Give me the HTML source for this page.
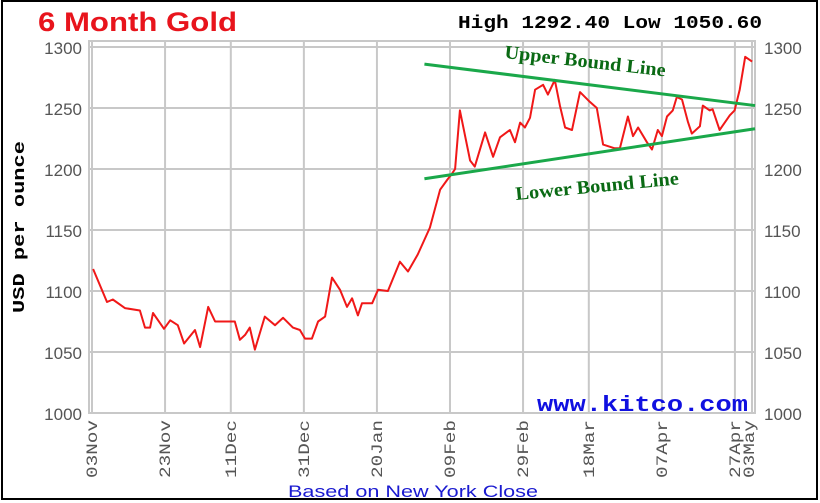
<!DOCTYPE html>
<html><head><meta charset="utf-8"><style>
html,body{margin:0;padding:0;background:#fff;width:820px;height:503px;overflow:hidden}
svg{display:block}
</style></head><body>
<svg id="chart" width="820" height="503" viewBox="0 0 820 503" xmlns="http://www.w3.org/2000/svg">
<rect x="2" y="1" width="815" height="498" fill="#fff" stroke="#000" stroke-width="2"/>
<text x="38" y="31" textLength="199" lengthAdjust="spacingAndGlyphs" font-family="Liberation Sans, sans-serif" font-weight="bold" font-size="27" fill="#e8141c">6 Month Gold</text>
<text x="458" y="28" textLength="304" lengthAdjust="spacingAndGlyphs" font-family="Liberation Mono, monospace" font-weight="bold" font-size="18" fill="#000">High 1292.40 Low 1050.60</text>
<text transform="translate(24,227) rotate(-90)" text-anchor="middle" textLength="172" lengthAdjust="spacingAndGlyphs" font-family="Liberation Mono, monospace" font-weight="bold" font-size="17" fill="#000">USD per ounce</text>
<rect x="89" y="41" width="666" height="372" fill="#fff" stroke="#c8c8c8" stroke-width="2"/>
<g id="grid"></g>
<g id="labels"></g>
<text x="537" y="411" textLength="211" lengthAdjust="spacingAndGlyphs" font-family="Liberation Mono, monospace" font-weight="bold" font-size="22" fill="#1010e0">www.kitco.com</text>
<g id="series"></g>
<text x="504" y="58" textLength="162" lengthAdjust="spacingAndGlyphs" transform="rotate(6.5 504 58)" font-family="Liberation Serif, serif" font-weight="bold" font-size="19" fill="#0a6a14">Upper Bound Line</text>
<text x="516" y="200" textLength="164" lengthAdjust="spacingAndGlyphs" transform="rotate(-5.5 516 200)" font-family="Liberation Serif, serif" font-weight="bold" font-size="19" fill="#0a6a14">Lower Bound Line</text>
<text x="288" y="497" textLength="250" lengthAdjust="spacingAndGlyphs" font-family="Liberation Sans, sans-serif" font-size="17" fill="#1a1ad0">Based on New York Close</text>
</svg>
<script>
const yTicks=[1000,1050,1100,1150,1200,1250,1300];
const xTickDays=[0,20,38,58,78,98,118,136,156,176,182];
const xTickLabels=["03Nov","23Nov","11Dec","31Dec","20Jan","09Feb","29Feb","18Mar","07Apr","27Apr","03May"];
const priceDays=[0.3,4.1,5.7,9.0,13.1,14.5,15.9,16.7,18.1,19.7,21.4,23.5,25.2,28.2,29.6,31.8,33.7,36.4,39.1,40.5,41.9,43.2,44.6,47.3,50.1,52.3,55.0,56.9,58.3,60.2,61.9,63.8,65.7,67.9,69.8,71.2,72.8,73.9,76.7,78.3,81.0,84.3,86.5,89.2,92.5,95.3,97.2,98.5,99.4,100.7,103.5,104.8,107.6,109.8,111.7,114.4,115.8,117.2,118.5,119.9,121.3,123.5,124.8,126.7,128.1,129.5,131.4,133.6,136.3,138.2,139.9,143.1,144.5,146.7,148.1,149.5,151.9,153.3,154.9,156.0,157.4,159.0,160.1,161.5,163.1,164.2,166.4,167.2,169.1,169.9,171.8,174.6,175.9,177.3,178.8,180.7];
const prices=[1118,1091,1093,1086,1084,1070,1070,1082,1076,1069,1076,1072,1057,1068,1054,1087,1075,1075,1075,1060,1064,1070,1052,1079,1072,1078,1070,1068,1061,1061,1075,1079,1111,1101,1087,1094,1080,1090,1090,1101,1100,1124,1116,1130,1152,1183,1191,1196,1200,1248,1207,1202,1230,1210,1226,1232,1222,1238,1234,1242,1265,1269,1261,1273,1252,1234,1232,1263,1255,1250,1220,1217,1217,1243,1227,1234,1222,1216,1232,1227,1243,1248,1259,1257,1239,1229,1235,1252,1248,1249,1232,1244,1248,1265,1292,1288];
const upperDays=[91,181.5], upperPrices=[1286,1252];
const lowerDays=[91,181.5], lowerPrices=[1192,1233];

const NS="http://www.w3.org/2000/svg";
const X=d=>92+d*3.653;
const Y=p=>413-(p-1000)*1.22;
const grid=document.getElementById('grid'),labels=document.getElementById('labels'),series=document.getElementById('series');
function mk(tag,attrs,parent){const e=document.createElementNS(NS,tag);for(const k in attrs)e.setAttribute(k,attrs[k]);parent.appendChild(e);return e;}
yTicks.forEach(v=>{
  const l=mk('line',{x1:89,x2:755,y1:Y(v),y2:Y(v),stroke:'#c8c8c8','stroke-width':2},grid);
  
  
  const t1=mk('text',{x:82,y:Y(v)+7,'text-anchor':'end','font-family':'Liberation Sans, sans-serif','font-size':17,fill:'#555'},labels);
  t1.textContent=v;
  
  
  const t2=mk('text',{x:764,y:Y(v)+7,'font-family':'Liberation Sans, sans-serif','font-size':17,fill:'#555'},labels);
  t2.textContent=v;
  
  
});
xTickDays.forEach((d,i)=>{
  const x=Math.min(X(d),752);
  const l=mk('line',{x1:x,x2:x,y1:41,y2:413,stroke:'#c8c8c8','stroke-width':2},grid);
  
  
  const lx=i===xTickLabels.length-1?x+2:x+5;
  const t=mk('text',{x:0,y:0,transform:`translate(${lx},420) rotate(-90)`,'text-anchor':'end',textLength:58,lengthAdjust:'spacingAndGlyphs','font-family':'Liberation Mono, monospace','font-size':16,fill:'#555'},labels);
  t.textContent=xTickLabels[i];
  
  
});
const pts=priceDays.map((d,i)=>X(d).toFixed(1)+','+Y(prices[i]).toFixed(1)).join(' ');
const pl=mk('polyline',{points:pts,fill:'none',stroke:'#f01818','stroke-width':2,'stroke-linejoin':'round'},series);


const ub=mk('line',{x1:X(upperDays[0]),y1:Y(upperPrices[0]),x2:X(upperDays[1]),y2:Y(upperPrices[1]),stroke:'#1aa84a','stroke-width':3},series);


const lb=mk('line',{x1:X(lowerDays[0]),y1:Y(lowerPrices[0]),x2:X(lowerDays[1]),y2:Y(lowerPrices[1]),stroke:'#1aa84a','stroke-width':3},series);


</script>
</body></html>
